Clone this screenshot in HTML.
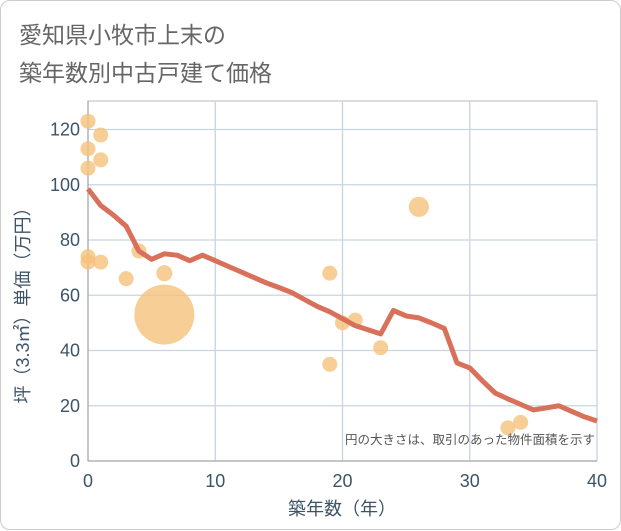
<!DOCTYPE html>
<html><head><meta charset="utf-8"><style>
body{margin:0;background:#fff;}
#card{position:absolute;left:0;top:0;width:619px;height:528px;border:1px solid #ccc;border-radius:10px;background:#fff;}
.t{position:absolute;left:18px;font:23px "Liberation Sans","Noto Sans CJK JP",sans-serif;color:#666;}
</style></head><body>
<div id="card">
<div class="t" style="top:15px">愛知県小牧市上末の</div>
<div class="t" style="top:53px">築年数別中古戸建て価格</div>
<svg id="chart" width="621" height="530" style="position:absolute;left:0;top:0"></svg>
</div>
<script>
const lineYears=[0,1,2,3,4,5,6,7,8,9,10,11,12,13,14,15,16,17,18,19,20,21,22,23,24,25,26,27,28,29,30,31,32,33,34,35,36,37,38,39,40];
const linePrices=[98.5,92.5,89,85,76,73,75,74.5,72.5,74.5,72.5,70.5,68.5,66.5,64.5,62.8,61,58.5,56,54,51.5,49,47.5,46,54.5,52.5,51.8,50,48,35.5,33.7,29,24.6,22.5,20.5,18.5,19.2,20,18,16,14.5];
const bubbleYears=[0,1,0,1,0,0,0,1,4,3,6,6,19,19,20,21,23,26,33,34];
const bubblePrices=[123,118,113,109,106,74,72,72,76,66,68,53,68,35,50,51,41,92,12,14];
const bubbleSizes=[1,1,1,1,1,1,1,1,1,1,1.15,16,1,1,1,1,1,1.8,1,1];
const xTicks=[0,10,20,30,40];
const yTicks=[0,20,40,60,80,100,120];
const NS="http://www.w3.org/2000/svg";
const svg=document.getElementById('chart');
const X0=87,X1=596,Y0=460,Y120=128.5;
const sx=v=>X0+(X1-X0)*v/40;
const sy=v=>Y0-(Y0-Y120)*v/120;
function mk(tag,attrs){const e=document.createElementNS(NS,tag);for(const k in attrs)e.setAttribute(k,attrs[k]);svg.appendChild(e);return e;}
let e=mk('rect',{x:X0,y:100,width:X1-X0,height:Y0-100,fill:'#fff',stroke:'#bbb'});


yTicks.forEach(v=>{
 let g=mk('line',{x1:X0,x2:X1,y1:sy(v),y2:sy(v),stroke:'#c8d4e2','stroke-width':1.3});
 
 
 let t=mk('text',{x:X0-8,y:sy(v)+6,'text-anchor':'end','font-size':18,fill:'#3d5468','font-family':'Liberation Sans, sans-serif'});
 t.textContent=v;
 
 
});
xTicks.forEach(v=>{
 let g=mk('line',{x1:sx(v),x2:sx(v),y1:100,y2:Y0,stroke:'#c8d4e2','stroke-width':1.3});
 
 
 let t=mk('text',{x:sx(v),y:Y0+26,'text-anchor':'middle','font-size':18,fill:'#3d5468','font-family':'Liberation Sans, sans-serif'});
 t.textContent=v;
 
 
});
let ax=mk('line',{x1:X0,x2:X0,y1:100,y2:Y0,stroke:'#999','stroke-width':1});


let ax2=mk('line',{x1:X0,x2:X1,y1:Y0,y2:Y0,stroke:'#999','stroke-width':1});


bubbleYears.forEach((yr,i)=>{
 let c=mk('circle',{cx:sx(yr),cy:sy(bubblePrices[i]),r:7.5*Math.sqrt(bubbleSizes[i]),fill:'#f5c27a','fill-opacity':0.8});
 
 
});
let p=mk('polyline',{points:lineYears.map((y,i)=>sx(y)+','+sy(linePrices[i])).join(' '),fill:'none',stroke:'#d9705a','stroke-width':5,'stroke-linejoin':'round'});


let n=mk('text',{x:594,y:443,'text-anchor':'end','font-size':12.5,fill:'#555','font-family':'Liberation Sans, Noto Sans CJK JP, sans-serif'});
n.textContent='円の大きさは、取引のあった物件面積を示す';


let xt=mk('text',{x:341,y:514,'text-anchor':'middle','font-size':18,fill:'#3d5468','font-family':'Liberation Sans, Noto Sans CJK JP, sans-serif'});
xt.textContent='築年数（年）';


let yt=mk('text',{x:0,y:0,'text-anchor':'middle','font-size':18,fill:'#3d5468','font-family':'Liberation Sans, Noto Sans CJK JP, sans-serif',transform:'translate(28,300) rotate(-90)'});
yt.textContent='坪（3.3㎡）単価（万円）';


</script>
</body></html>
